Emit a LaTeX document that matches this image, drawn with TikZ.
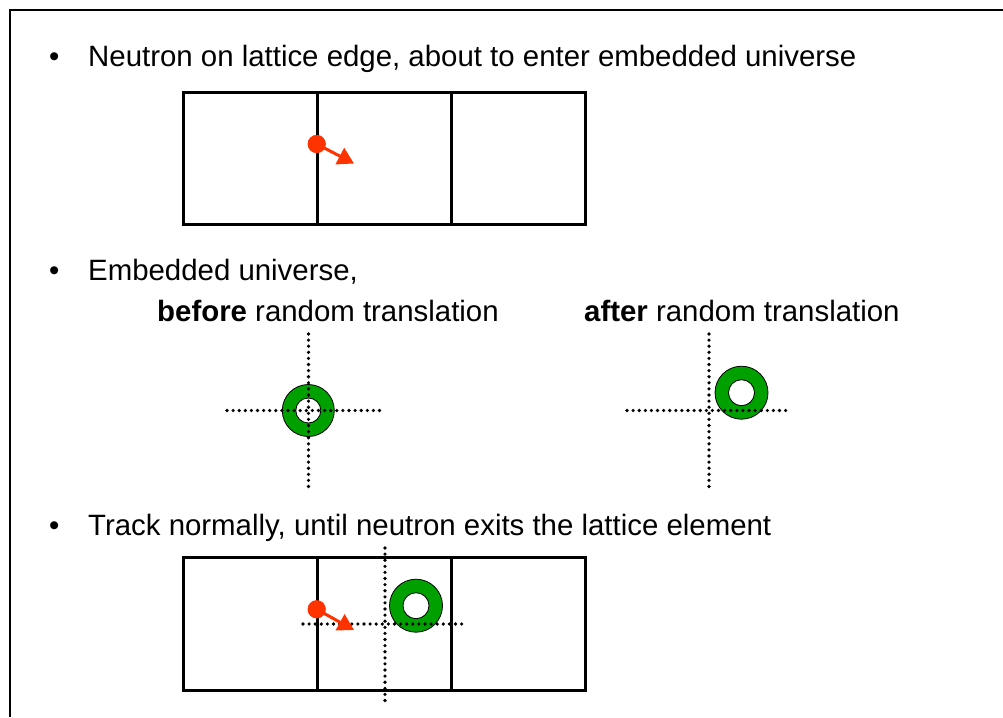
\documentclass[tikz,border=0pt]{standalone}
\usepackage{fontspec}
\setmainfont{Liberation Sans}
\usetikzlibrary{arrows.meta}
\definecolor{nred}{RGB}{255,51,0}
\definecolor{ugreen}{RGB}{0,160,0}
\begin{document}
\begin{tikzpicture}[x=1pt,y=-1pt,
  txt/.style={anchor=base west,inner sep=0pt,font=\fontsize{29.4}{34}\selectfont},
  lat/.style={line width=3pt,black},
  dotl/.style={line width=3.6pt,line cap=round,dash pattern=on 0pt off 6.1pt,black},
  neutron/.style={circle,fill=nred,inner sep=0pt,minimum size=18pt},
  mv/.style={line width=3pt,nred,-{Triangle[length=16pt,width=18pt]}},
  ring/.style={fill=ugreen,even odd rule,draw=black,line width=0.8pt}]
\useasboundingbox (0,0) rectangle (1003,717);
\fill[white] (0,0) rectangle (1003,717);
% frame
\draw[line width=2pt] (10,717) -- (10,10) -- (1003,10);
% bullets and texts
\node[txt] (b1) at (49,66.7) {•};
\node[txt] (t1) at (88,66.7) {Neutron on lattice edge, about to enter embedded universe};
\node[txt] (b2) at (49,280.7) {•};
\node[txt] (t2) at (88,280.7) {Embedded universe,};
\node[txt] (t2a) at (157,321.7) {\textbf{before} random translation};
\node[txt] (t2b) at (584,321.7) {\textbf{after} random translation};
\node[txt] (b3) at (49,535) {•};
\node[txt] (t3) at (88,535) {Track normally, until neutron exits the lattice element};
% lattice 1
\draw[lat] (183,92) rectangle (585,224);
\draw[lat] (317,92) -- (317,224);
\draw[lat] (451,92) -- (451,224);
\node[neutron] (n1) at (316.7,144) {};
\coordinate (a1) at (354,163.5);
\draw[mv] (n1.center) -- (a1);
\fill[nred] (316.7,144) circle (9);
% before
\coordinate (r1) at (308.3,410.5);
\draw[ring] (r1) circle (26) (r1) circle (12.5);
\draw[dotl] (308.5,334) -- (308.5,491);
\draw[dotl] (227,410.5) -- (385,410.5);
% after
\draw[dotl] (709,334) -- (709,491);
\coordinate (r2) at (741.5,392.7);
\draw[ring] (r2) circle (26.5) (r2) circle (13);
\draw[dotl] (627,410.5) -- (787,410.5);
% lattice 2
\draw[lat] (183,557) rectangle (585,690);
\draw[lat] (317,557) -- (317,690);
\draw[lat] (451,557) -- (451,690);
\draw[dotl] (385,548) -- (385,705);
\coordinate (r3) at (416,605.7);
\draw[ring] (r3) circle (26.5) (r3) circle (13);
\draw[dotl] (303,624) -- (462,624);
\node[neutron] (n2) at (316.7,609.3) {};
\coordinate (a2) at (354,630);
\draw[mv] (n2.center) -- (a2);
\fill[nred] (316.7,609.3) circle (9);
\end{tikzpicture}
\end{document}
